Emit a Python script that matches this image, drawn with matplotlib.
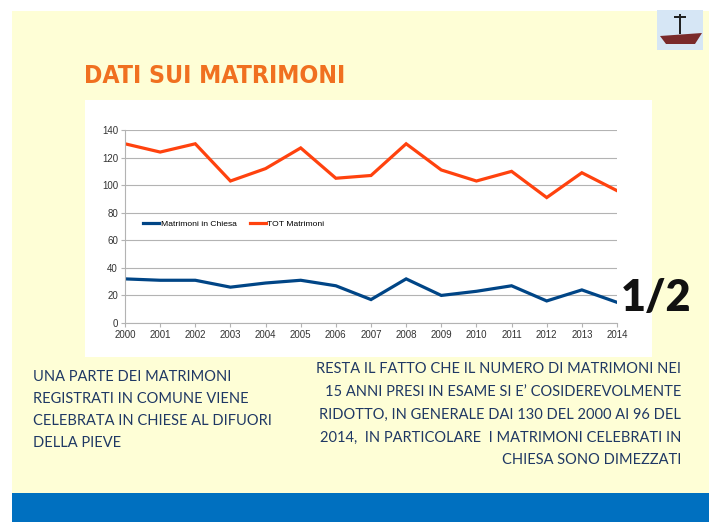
import matplotlib
matplotlib.use("Agg")
import matplotlib.pyplot as plt
from matplotlib.patches import Rectangle, Polygon

years = list(range(2000, 2015))
tot_matrimoni = [130, 124, 130, 103, 112, 127, 105, 107, 130, 111, 103, 110, 91, 109, 96]
matrimoni_chiesa = [32, 31, 31, 26, 29, 31, 27, 17, 32, 20, 23, 27, 16, 24, 15]
y_ticks = [0, 20, 40, 60, 80, 100, 120, 140]

W, H = 709, 522
fig = plt.figure(figsize=(W / 100, H / 100), dpi=100)
fig.patch.set_facecolor("white")

def fx(px):
    return px / W

def fy(py):
    return 1 - py / H

# slide background
fig.patches.append(Rectangle((fx(12), fy(522)), fx(709 - 12), (522 - 11) / H,
                             transform=fig.transFigure, facecolor="#FEFED6", edgecolor="none", zorder=0))
# blue band at bottom
fig.patches.append(Rectangle((fx(12), 0), fx(709 - 12), (522 - 493) / H,
                             transform=fig.transFigure, facecolor="#0070C0", edgecolor="none", zorder=1))
# white chart box
fig.patches.append(Rectangle((fx(85), fy(357)), fx(652 - 85), (357 - 100) / H,
                             transform=fig.transFigure, facecolor="white", edgecolor="none", zorder=1))
# logo placeholder
fig.patches.append(Rectangle((fx(657), fy(50)), fx(46), 40 / H,
                             transform=fig.transFigure, facecolor="#D6E6F5", edgecolor="none", zorder=1))
fig.patches.append(Polygon([(fx(660), fy(36)), (fx(702), fy(33)), (fx(695), fy(44)), (fx(666), fy(44))],
                           closed=True, transform=fig.transFigure, facecolor="#7A2A2A", edgecolor="none", zorder=2))
fig.patches.append(Rectangle((fx(679), fy(34)), fx(2), 20 / H,
                             transform=fig.transFigure, facecolor="#222222", edgecolor="none", zorder=2))
fig.patches.append(Rectangle((fx(674), fy(18)), fx(12), 2 / H,
                             transform=fig.transFigure, facecolor="#222222", edgecolor="none", zorder=2))

# title
fig.text(fx(84), fy(76), "DATI SUI MATRIMONI", color="#F07020", fontsize=17.8,
         fontweight="bold", family="DejaVu Sans", va="center", ha="left",
         fontstretch="condensed", zorder=3)

# chart axes
ax = fig.add_axes([fx(125), fy(323), fx(617 - 125), (323 - 130) / H], zorder=3)
ax.set_facecolor("white")
l1, = ax.plot(years, matrimoni_chiesa, color="#004586", lw=2.3, label="Matrimoni in Chiesa",
              solid_joinstyle="miter")
l2, = ax.plot(years, tot_matrimoni, color="#FF420E", lw=2.3, label="TOT Matrimoni",
              solid_joinstyle="miter")
ax.set_xlim(2000, 2014)
ax.set_ylim(0, 140)
ax.set_xticks(years)
ax.set_yticks(y_ticks)
ax.tick_params(axis="both", labelsize=7, colors="#B3B3B3", labelcolor="#333333",
               length=3, width=0.8, pad=2)
ax.grid(axis="y", color="#B3B3B3", lw=0.8)
ax.set_axisbelow(True)
for s in ["top", "right"]:
    ax.spines[s].set_visible(False)
for s in ["left", "bottom"]:
    ax.spines[s].set_color("#B3B3B3")
    ax.spines[s].set_linewidth(0.8)
for lab in ax.get_xticklabels() + ax.get_yticklabels():
    lab.set_family("Liberation Sans")

leg = ax.legend(handles=[l1, l2], loc="center left", bbox_to_anchor=(2000.4, 72),
                bbox_transform=ax.transData, ncol=2, frameon=False,
                prop={"family": "Liberation Sans", "size": 6.1}, handlelength=1.9,
                handletextpad=0.15, columnspacing=1.6, borderpad=0)
for h in leg.get_lines():
    h.set_linewidth(2.3)

# 1/2 label
fig.text(fx(621), fy(298), "1/2", fontsize=31, fontweight="heavy", family="Lato",
         color="#111111", va="center", ha="left", zorder=4)

# bottom texts
left_text = ("UNA PARTE DEI MATRIMONI\nREGISTRATI IN COMUNE VIENE\n"
             "CELEBRATA IN CHIESE AL DIFUORI\nDELLA PIEVE")
fig.text(fx(33), fy(370), left_text, fontsize=10.5, family="Lato", color="#1F3864",
         va="top", ha="left", linespacing=1.74, zorder=3)

right_text = ("RESTA IL FATTO CHE IL NUMERO DI MATRIMONI NEI\n"
              "15 ANNI PRESI IN ESAME SI E\u2019 COSIDEREVOLMENTE\n"
              "RIDOTTO, IN GENERALE DAI 130 DEL 2000 AI 96 DEL\n"
              "2014,  IN PARTICOLARE  I MATRIMONI CELEBRATI IN\n"
              "CHIESA SONO DIMEZZATI")
fig.text(fx(681), fy(362), right_text, fontsize=10.5, family="Lato", color="#1F3864",
         va="top", ha="right", multialignment="right", linespacing=1.8, zorder=3)

fig.savefig("out.png", dpi=100, facecolor=fig.get_facecolor())
